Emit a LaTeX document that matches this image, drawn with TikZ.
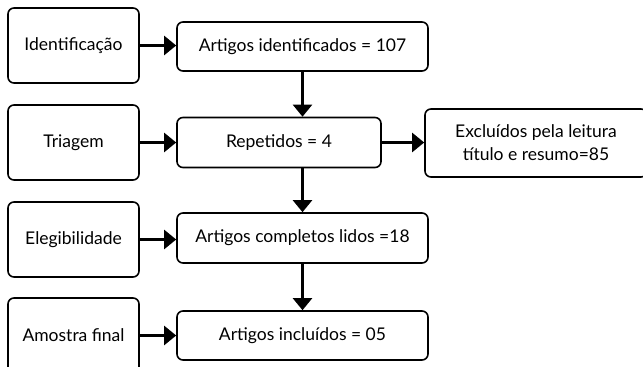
\documentclass[tikz,border=0pt]{standalone}
\usepackage{fontspec}
\setmainfont{Lato}
\usetikzlibrary{arrows.meta}
\tikzset{
    etapa/.style={draw, line width=1.6pt, rounded corners=6pt, minimum width=131pt, minimum height=75pt, font=\fontsize{17.5}{23}\selectfont},
    caixa/.style={draw, line width=1.6pt, rounded corners=6pt, minimum width=251pt, minimum height=49pt, font=\fontsize{17.5}{23}\selectfont},
    seta/.style={line width=2.2pt, -{Triangle[length=12pt,width=19pt]}}
}

\begin{document}
\begin{tikzpicture}[x=1pt, y=-1pt]
    \useasboundingbox (0,0) rectangle (643,367);

    % etapas
    \draw (73.5,45.5) node [etapa] (ident) {Identificação} ;
    \draw (73.5,142.5) node [etapa] (triagem) {Triagem} ;
    \draw (73.5,239.5) node [etapa] (eleg) {Elegibilidade} ;
    \draw (73.5,335.5) node [etapa] (amostra) {Amostra final} ;

    % caixas
    \draw (302.5,46.5) node [caixa] (artigos) {Artigos identificados = 107} ;
    \draw (279,142.5) node [caixa, minimum width=204pt, minimum height=50pt] (repetidos) {Repetidos = 4} ;
    \draw (536,143) node [caixa, minimum width=222pt, minimum height=68pt, align=center] (excluidos) {Excluídos pela leitura\\título e resumo=85} ;
    \draw (302.5,238) node [caixa, minimum height=50pt] (completos) {Artigos completos lidos =18} ;
    \draw (302.5,335.5) node [caixa] (incluidos) {Artigos incluídos = 05} ;

    \draw[seta] (ident) -- (artigos.west |- ident);
    \draw[seta] (triagem) -- (repetidos.west |- triagem);
    \draw[seta] (eleg) -- (completos.west |- eleg);
    \draw[seta] (amostra) -- (incluidos.west |- amostra);

    \draw[seta] (artigos) -- (artigos |- repetidos.north);
    \draw[seta] (repetidos.south -| completos) -- (completos);
    \draw[seta] (completos) -- (incluidos);
    \draw[seta] (repetidos.east) -- (excluidos.west |- repetidos.east);
\end{tikzpicture}
\end{document}
